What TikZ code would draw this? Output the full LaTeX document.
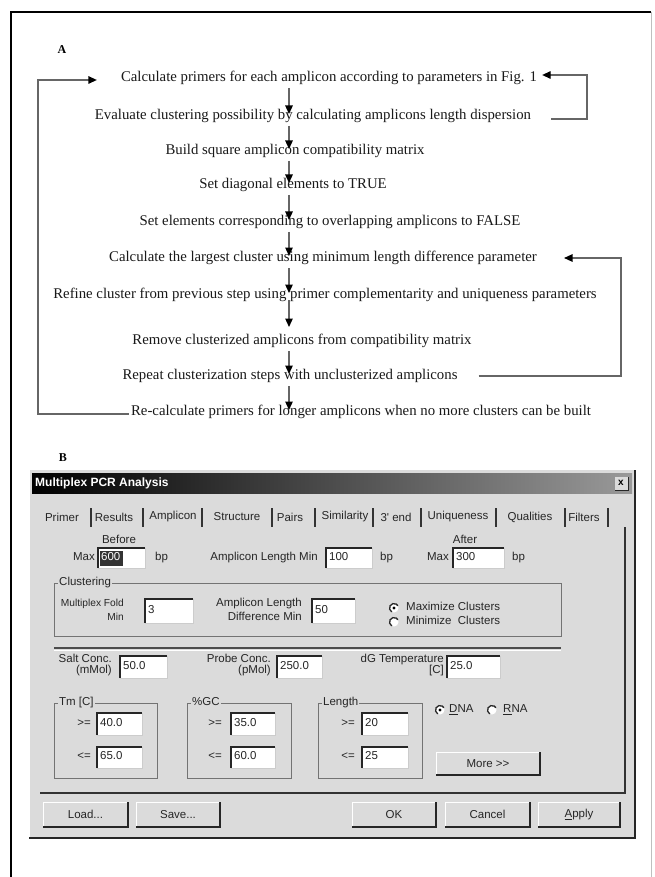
\documentclass[tikz,border=0pt]{standalone}
\usepackage{fontspec}
\setmainfont{Liberation Serif}
\newfontfamily\dlgfont{Liberation Sans}
\usetikzlibrary{arrows.meta,calc}
\definecolor{bg}{gray}{0.86}
\newcommand\fld[6]{%
  \fill[white] (#2,#3) rectangle (#4,#5);
  \draw[black!85, line width=1.6pt] (#2,#5) -- (#2,#3) -- (#4,#3);
  \draw[black!20, line width=0.8pt] (#4,#3) -- (#4,#5) -- (#2,#5);
  \node[dl, anchor=mid west] (#1) at ({#2+3},{(#3+#5)/2}) {#6};}
\newcommand\btn[6]{%
  \draw[white, line width=1pt] (#2,#5) -- (#2,#3) -- (#4,#3);
  \draw[black!85, line width=1.8pt] (#2,#5) -- (#4,#5) -- (#4,#3);
  \node[dl] (#1) at ({(#2+#4)/2},{(#3+#5)/2}) {#6};}
\newcommand\grp[6]{%
  \draw[black!55, line width=1pt] (#2,#3) rectangle (#4,#5);
  \node[dl, anchor=mid west, fill=bg, inner xsep=1pt] (#1) at ({#2+4},#3) {#6};}
\newcommand\radoff[2]{%
  \fill[white] (#1,#2) circle (4.5);
  \draw[black!85, line width=1.3pt] (#1,#2) ++(120:4.5) arc[start angle=120, end angle=330, radius=4.5];}
\newcommand\radon[2]{%
  \radoff{#1}{#2}
  \fill[black] (#1,#2) circle (1.6);}
\begin{document}
\begin{tikzpicture}[x=1pt,y=-1pt,
  fl/.style={font=\fontsize{14.8}{16}\selectfont, inner sep=0pt, anchor=mid, text=black!90},
  arr/.style={draw=black!60, line width=1.3pt, -{Triangle[width=7.5pt,length=8.5pt,black]}},
  dl/.style={font=\dlgfont\fontsize{11.5}{12.5}\selectfont, inner sep=0pt, text=black!85},
  dls/.style={dl, font=\dlgfont\fontsize{10.2}{11}\selectfont},
  lbl/.style={font=\bfseries\fontsize{12}{12}\selectfont, inner sep=0pt}]
\useasboundingbox (0,0) rectangle (654,877);
\fill[white] (0,0) rectangle (654,877);
% frame
\draw[line width=2.5pt] (11,877) -- (11,12) -- (651,12);
\draw[black!25, line width=0.8pt] (651,12) -- (651,877);

% ---------------- Part A ----------------
\node[lbl] (lblA) at (62,50) {A};
\node[fl] (n1) at (329,79) {Calculate primers for each amplicon according to parameters in Fig. 1};
\node[fl] (n2) at (313,117) {Evaluate clustering possibility by calculating amplicons length dispersion};
\node[fl] (n3) at (295,152) {Build square amplicon compatibility matrix};
\node[fl] (n4) at (293,186) {Set diagonal elements to TRUE};
\node[fl] (n5) at (330,223) {Set elements corresponding to overlapping amplicons to FALSE};
\node[fl] (n6) at (323,259) {Calculate the largest cluster using minimum length difference parameter};
\node[fl] (n7) at (325,296) {Refine cluster from previous step using primer complementarity and uniqueness parameters};
\node[fl] (n8) at (302,342) {Remove clusterized amplicons from compatibility matrix};
\node[fl] (n9) at (290,377) {Repeat clusterization steps with unclusterized amplicons};
\node[fl] (n10) at (361,413) {Re-calculate primers for longer amplicons when no more clusters can be built};

\coordinate (col) at (289,0);
\coordinate (lx) at (38,0);
\coordinate (rx1) at (587,0);
\coordinate (rx2) at (621,0);
\foreach \a/\b in {n1/n2,n2/n3,n3/n4,n4/n5,n5/n6,n6/n7,n8/n9,n9/n10}
  \draw[arr] ($(\a.mid -| col)+(0,9)$) -- ($(\b.mid -| col)+(0,-3)$);
\draw[arr] ($(n7.mid -| col)+(0,4)$) -- ($(n8.mid -| col)+(0,-15)$);

% left loop
\coordinate (la) at ($(n10.mid west)+(-2,1)$);
\coordinate (lb) at ($(n1.mid west)+(-24,1)$);
\draw[arr] (la) -- (la -| lx) -- (lb -| lx) -- (lb);
% top right loop
\coordinate (ra) at ($(n2.mid east)+(20,2)$);
\coordinate (rb) at ($(n1.mid east)+(5,-4)$);
\draw[arr] (ra) -- (ra -| rx1) -- (rb -| rx1) -- (rb);
% lower right loop
\coordinate (sa) at ($(n9.mid east)+(21,-1)$);
\coordinate (sb) at ($(n6.mid east)+(27,-1)$);
\draw[arr] (sa) -- (sa -| rx2) -- (sb -| rx2) -- (sb);

% ---------------- Part B ----------------
\node[lbl] (lblB) at (63,458) {B};
\fill[bg] (30,470) rectangle (635,838);
\shade[left color=black, right color=black!40] (32,473) rectangle (632,493);
\node[font=\dlgfont\bfseries\fontsize{12}{13}\selectfont, text=white, anchor=mid west, inner sep=0pt] (ttl) at (35,484) {Multiplex PCR Analysis};
\fill[bg] (615,477) rectangle (628,490);
\draw[black!85, line width=1pt] (628,477) -- (628,490) -- (615,490);
\node[font=\dlgfont\bfseries\fontsize{10}{10}\selectfont, inner sep=0pt] (xbtn) at (621,483) {x};
\draw[black!85, line width=2pt] (635,470) -- (635,839);
\draw[black!85, line width=2pt] (29,838) -- (636,838);

% tabs
\foreach \t/\x [count=\i] in {Primer/62,Results/114,Amplicon/173,Structure/237,Pairs/290,Similarity/345,3' end/396,Uniqueness/458,Qualities/530,Filters/584}
  \node[dl] (tab\i) at (\x,517) {\t};
\foreach \x in {91,143,202,272,315,373,421,496,565,608}
  \draw[black!80, line width=1.6pt] (\x,508) -- (\x,527);
\draw[black!80, line width=1.8pt] (625,527) -- (625,793) -- (40,793);

% Max row
\node[dl] (bef) at (119,539) {Before};
\node[dl, anchor=mid east] (mx1) at (95,558) {Max};
\fld{f1}{98}{548}{145}{568}{}
\fill[black!80] (100,551) rectangle (123,566);
\node[dl, text=white, anchor=mid west] (f1t) at (101,558.5) {600};
\node[dl, anchor=mid west] (bp1) at (155,558) {bp};
\node[dl, anchor=mid east] (alm) at (318,558) {Amplicon Length Min};
\fld{f2}{326}{548}{372}{568}{100}
\node[dl, anchor=mid west] (bp2) at (380,558) {bp};
\node[dl] (aft) at (465,539) {After};
\node[dl, anchor=mid east] (mx2) at (449,558) {Max};
\fld{f3}{453}{548}{504}{568}{300}
\node[dl, anchor=mid west] (bp3) at (512,558) {bp};

% Clustering
\grp{gclu}{54}{583}{561}{636}{Clustering}
\node[dls, anchor=mid east] (mf1) at (124,604) {Multiplex Fold};
\node[dls, anchor=mid east] (mf2) at (124,618) {Min};
\fld{f4}{145}{599}{193}{623}{3}
\node[dl, anchor=mid east] (ad1) at (302,604) {Amplicon Length};
\node[dl, anchor=mid east] (ad2) at (302,618) {Difference Min};
\fld{f5}{312}{599}{355}{623}{50}
\radon{394}{608}
\node[dl, anchor=mid west] (maxc) at (406,608) {Maximize Clusters};
\radoff{394}{622}
\node[dl, anchor=mid west] (minc) at (406,622) {Minimize\ \ Clusters};

\draw[black!70, line width=1.5pt] (54,648) -- (561,648);
\draw[white, line width=0.8pt] (54,650) -- (561,650);

% Salt row
\node[dl, anchor=mid east] (sc1) at (112,660) {Salt Conc.};
\node[dl, anchor=mid east] (sc2) at (112,671) {(mMol)};
\fld{f6}{120}{656}{167}{678}{50.0}
\node[dl, anchor=mid east] (pc1) at (271,660) {Probe Conc.};
\node[dl, anchor=mid east] (pc2) at (271,671) {(pMol)};
\fld{f7}{277}{656}{322}{678}{250.0}
\node[dl, anchor=mid east] (dg1) at (444,660) {dG Temperature};
\node[dl, anchor=mid east] (dg2) at (444,671) {[C]};
\fld{f8}{447}{656}{500}{678}{25.0}

% Tm / GC / Length groups
\grp{gtm}{54}{703}{157}{778}{Tm [C]}
\node[dl, anchor=mid east] (tm1) at (91,724) {>=};
\fld{f9}{97}{713}{142}{735}{40.0}
\node[dl, anchor=mid east] (tm2) at (91,757) {<=};
\fld{f10}{97}{747}{142}{768}{65.0}
\grp{ggc}{187}{703}{291}{778}{\%GC}
\node[dl, anchor=mid east] (gc1) at (222,724) {>=};
\fld{f11}{231}{713}{275}{735}{35.0}
\node[dl, anchor=mid east] (gc2) at (222,757) {<=};
\fld{f12}{231}{747}{275}{768}{60.0}
\grp{glen}{318}{703}{422}{778}{Length}
\node[dl, anchor=mid east] (ln1) at (355,724) {>=};
\fld{f13}{362}{713}{408}{735}{20}
\node[dl, anchor=mid east] (ln2) at (355,757) {<=};
\fld{f14}{362}{747}{408}{768}{25}

\radon{440}{710}
\node[dl, anchor=mid west] (dna) at (449,710) {\underline{D}NA};
\radoff{492}{710}
\node[dl, anchor=mid west] (rna) at (503,710) {\underline{R}NA};
\btn{more}{436}{752}{540}{775}{More >\kern0pt>}

% bottom buttons
\btn{bload}{43}{802}{128}{827}{Load...}
\btn{bsave}{136}{802}{220}{827}{Save...}
\draw[black!85, line width=1pt] (352,802) rectangle (436,827);
\btn{bok}{352}{802}{436}{827}{OK}
\btn{bcan}{445}{802}{530}{827}{Cancel}
\btn{bapp}{538}{802}{620}{827}{\underline{A}pply}
\end{tikzpicture}
\end{document}
